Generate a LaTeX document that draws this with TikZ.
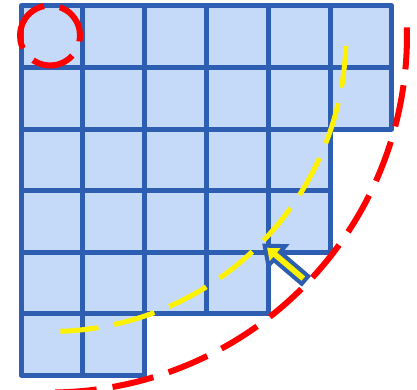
\documentclass[tikz,border=0pt]{standalone}
\usepackage{tikz}
\usetikzlibrary{arrows.meta}
\definecolor{gridblue}{RGB}{46,94,178}
\definecolor{cellfill}{RGB}{197,217,249}

\begin{document}
\begin{tikzpicture}[
  x=1pt, y=1pt,
  cell/.style={draw=gridblue, fill=cellfill, line width=5pt, line join=round},
  reddash/.style={draw=red, line width=6pt, dash pattern=on 42pt off 16pt},
  yellowdash/.style={draw=yellow, line width=5pt, dash pattern=on 42pt off 16pt},
  blockarrow/.style={draw=gridblue, fill=yellow, line width=4pt, line join=miter}
]
  \useasboundingbox (0,0) rectangle (417,389);
  % staircase of cells, row index / number of cells
  \foreach \r/\n in {0/6,1/6,2/5,3/5,4/4,5/2} {
    \foreach \c in {1,...,\n} {
      \draw[cell] ({21+(\c-1)*61.8},{383-\r*61.5}) rectangle ++(61.8,-61.5);
    }
  }
  \coordinate (ctr) at (50,353.5);
  \draw[yellowdash] (ctr) ++(-2:296) arc (-2:-88:296);
  \draw[reddash] (ctr) ++(1.3:357) arc (1.3:-91:357);
  \draw[reddash, dash pattern=on 43pt off 16pt] (ctr) ++(123:30) arc (123:483:30);
  % arrow pointing at the corner
  \begin{scope}[shift={(305,109)}, rotate=139.6]
    \draw[blockarrow] (0,-5) -- (37,-5) -- (37,-13) -- (53,0) -- (37,13) -- (37,5) -- (0,5) -- cycle;
  \end{scope}
\end{tikzpicture}
\end{document}
